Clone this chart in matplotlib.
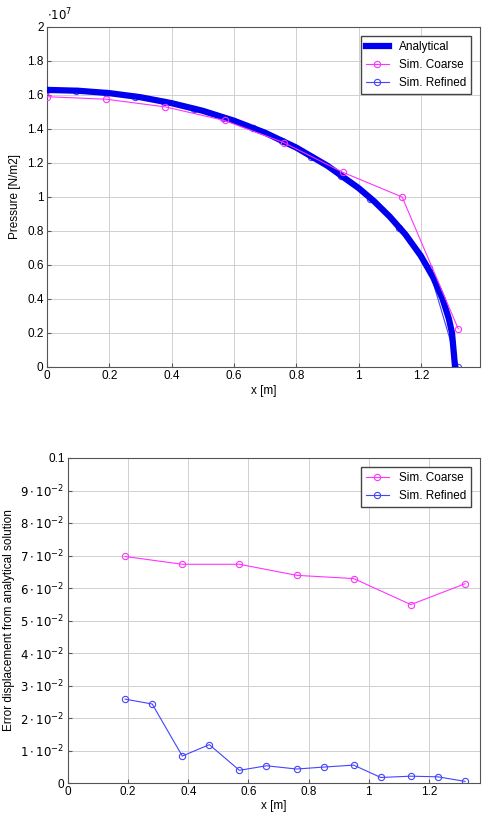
import numpy as np
import matplotlib.pyplot as plt

# top panel: pressure along contact (values in 1e7 N/m2)
ana_x = [0, 0.1, 0.2, 0.3, 0.4, 0.5, 0.6, 0.7, 0.8, 0.9, 1.0, 1.05, 1.1, 1.15, 1.2, 1.24, 1.27, 1.29, 1.30, 1.31]
ana_p = [1.63, 1.625, 1.611, 1.587, 1.552, 1.507, 1.449, 1.378, 1.291, 1.184, 1.053, 0.975, 0.885, 0.781, 0.654, 0.526, 0.40, 0.284, 0.202, 0.0]
coarse_x = [0, 0.19, 0.38, 0.57, 0.76, 0.95, 1.14, 1.32]
coarse_p = [1.59, 1.575, 1.53, 1.45, 1.32, 1.145, 1.0, 0.225]
refined_x = [0, 0.094, 0.189, 0.283, 0.377, 0.471, 0.566, 0.66, 0.754, 0.849, 0.943, 1.037, 1.131, 1.226, 1.32]
refined_p = [1.63, 1.624, 1.61, 1.587, 1.558, 1.518, 1.466, 1.403, 1.327, 1.235, 1.125, 0.99, 0.82, 0.58, 0.0]

# bottom panel: error displacement
err_coarse_x = [0.19, 0.38, 0.57, 0.76, 0.95, 1.14, 1.32]
err_coarse = [0.0697, 0.0673, 0.0673, 0.0639, 0.0629, 0.0549, 0.0613]
err_ref_x = [0.19, 0.28, 0.38, 0.47, 0.57, 0.66, 0.76, 0.85, 0.95, 1.04, 1.14, 1.23, 1.32]
err_ref = [0.0258, 0.0243, 0.0083, 0.0118, 0.0039, 0.0053, 0.0043, 0.0049, 0.0055, 0.0017, 0.0021, 0.0019, 0.0005]

plt.rcParams['font.family'] = ['Liberation Sans', 'DejaVu Sans']
plt.rcParams['font.size'] = 8.5
plt.rcParams['mathtext.fontset'] = 'dejavusans'

W, H = 499, 816
fig = plt.figure(figsize=(W / 100, H / 100), dpi=100)
ax1 = fig.add_axes([47 / W, 1 - 367 / H, 433 / W, 340 / H])
ax2 = fig.add_axes([68 / W, 1 - 783 / H, 412 / W, 325 / H])

mag = '#ff33ff'
blu = '#4444ff'

ax1.plot(ana_x, ana_p, color='#0000ee', lw=4.5, label='Analytical', zorder=3)
ax1.plot(coarse_x, coarse_p, color=mag, lw=0.8, marker='o', mfc='none', ms=4.5, mew=0.8, label='Sim. Coarse', zorder=4)
ax1.plot(refined_x, refined_p, color=blu, lw=0.8, marker='o', mfc='none', ms=4.5, mew=0.8, label='Sim. Refined', zorder=2.5)
ax1.set_xlim(0, 1.39)
ax1.set_ylim(0, 2)
ax1.set_xticks([0, 0.2, 0.4, 0.6, 0.8, 1, 1.2])
ax1.set_xticklabels(['0', '0.2', '0.4', '0.6', '0.8', '1', '1.2'])
ax1.set_yticks(np.arange(0, 2.01, 0.2))
ax1.set_yticklabels(['0', '0.2', '0.4', '0.6', '0.8', '1', '1.2', '1.4', '1.6', '1.8', '2'])
ax1.set_xlabel('x [m]', labelpad=2)
ax1.set_ylabel('Pressure [N/m2]')
ax1.text(0, 1.01, r'$\cdot10^{7}$', transform=ax1.transAxes, ha='left', va='bottom')
ax1.legend(loc='upper right', fancybox=False, edgecolor='#444444', framealpha=1, borderaxespad=0.8)

ax2.plot(err_coarse_x, err_coarse, color=mag, lw=0.8, marker='o', mfc='none', ms=4.5, mew=0.8, label='Sim. Coarse')
ax2.plot(err_ref_x, err_ref, color=blu, lw=0.8, marker='o', mfc='none', ms=4.5, mew=0.8, label='Sim. Refined')
ax2.set_xlim(0, 1.37)
ax2.set_ylim(0, 0.1)
ax2.set_xticks([0, 0.2, 0.4, 0.6, 0.8, 1, 1.2])
ax2.set_xticklabels(['0', '0.2', '0.4', '0.6', '0.8', '1', '1.2'])
ax2.set_yticks(np.arange(0, 0.101, 0.01))
ax2.set_yticklabels(['0'] + [r'$%d\cdot10^{-2}$' % i for i in range(1, 10)] + ['0.1'])
ax2.set_xlabel('x [m]', labelpad=1)
ax2.set_ylabel('Error displacement from analytical solution')
ax2.legend(loc='upper right', fancybox=False, edgecolor='#444444', framealpha=1, borderaxespad=0.8)

for ax in (ax1, ax2):
    ax.grid(True, color='#d0d0d0', lw=0.7)
    ax.set_axisbelow(True)
    for s in ax.spines.values():
        s.set_color('#555555')
        s.set_linewidth(0.8)
    ax.tick_params(direction='in', length=3, color='#555555', pad=2.5)

fig.savefig('out.png', dpi=100)
